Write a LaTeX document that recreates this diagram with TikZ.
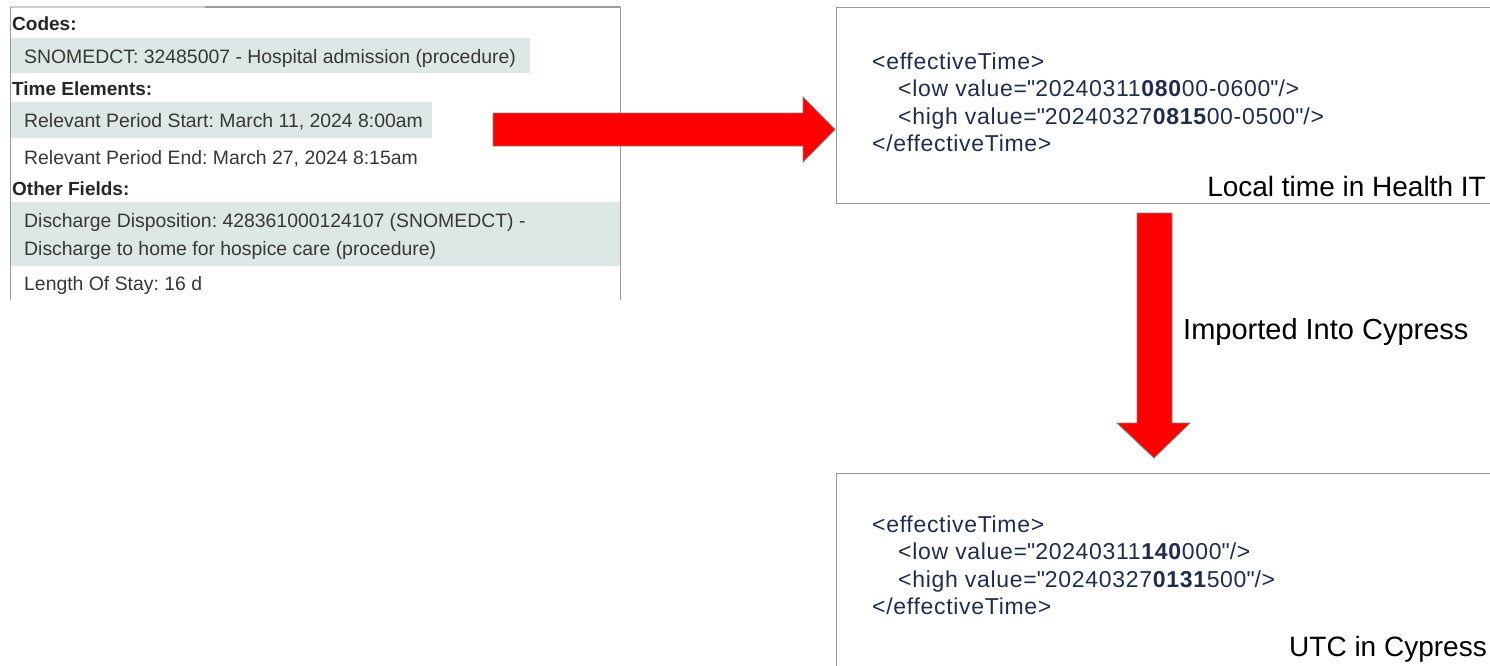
\documentclass[tikz,border=0pt]{standalone}
\usepackage{fontspec}
\setmainfont{Liberation Sans}
\newfontfamily\xmlfont[LetterSpace=3.0]{Liberation Sans}
\definecolor{hl}{RGB}{221,232,230}
\definecolor{frame}{RGB}{155,155,155}
\definecolor{lightframe}{RGB}{205,205,205}
\definecolor{xml}{RGB}{31,45,77}
\definecolor{paneltext}{RGB}{55,55,55}
\definecolor{arrowred}{RGB}{255,0,0}
\newcommand{\qq}{\textquotedbl}
\begin{document}
\frenchspacing
\begin{tikzpicture}[x=1pt,y=-1pt,
  lbl/.style={anchor=base west,inner sep=0pt,font=\fontsize{19}{23}\selectfont\bfseries,text=black!85},
  row/.style={anchor=base west,inner sep=0pt,font=\fontsize{19.4}{23}\selectfont,text=paneltext},
  xmlline/.style={anchor=base west,inner sep=0pt,font=\xmlfont\fontsize{23}{27}\selectfont,text=xml},
  captext/.style={inner sep=0pt,font=\fontsize{28}{32}\selectfont,text=black},
  box/.style={draw=frame,line width=1.2pt,anchor=north west,inner sep=0pt,minimum width=720pt},
  bigarrow/.style={fill=arrowred,draw=gray,line width=0.8pt,line join=miter}]
\useasboundingbox (0,0) rectangle (1490,665);

% left panel highlights
\fill[hl] (11,38) rectangle (530,73);
\fill[hl] (11,102) rectangle (432,138);
\fill[hl] (11,202) rectangle (620,266);
% left panel frame
\draw[lightframe,line width=1.5pt] (10,7) -- (205,7);
\draw[frame,line width=1.5pt] (205,7) -- (620,7);
\draw[frame,line width=1pt] (10,7) -- (10,300);
\draw[frame,line width=1pt] (620,7) -- (620,300);

\node[lbl] (codes) at (12,30) {Codes:};
\node[row] (snomed) at (24,63) {SNOMEDCT: 32485007 - Hospital admission (procedure)};
\node[lbl] (timeel) at (12,95) {Time Elements:};
\node[row] (rstart) at (24,127) {Relevant Period Start: March 11, 2024 8:00am};
\node[row] (rend) at (24,164) {Relevant Period End: March 27, 2024 8:15am};
\node[lbl] (other) at (12,195) {Other Fields:};
\node[row] (disch1) at (24,227) {Discharge Disposition: 428361000124107 (SNOMEDCT) -};
\node[row] (disch2) at (24,255) {Discharge to home for hospice care (procedure)};
\node[row] (los) at (24,290) {Length Of Stay: 16 d};

% right boxes
\node[box,minimum height=196pt] (b1) at (836,7) {};
\node[box,minimum height=260pt] (b2) at (836,473) {};

\node[xmlline] (b1l1) at (872,69) {<effectiveTime>};
\node[xmlline] (b1l2) at (898,96.5) {<low value=\qq20240311\textbf{080}00-0600\qq/>};
\node[xmlline] (b1l3) at (898,124) {<high value=\qq20240327\textbf{0815}00-0500\qq/>};
\node[xmlline] (b1l4) at (872,151.5) {</effectiveTime>};
\node[captext,anchor=base east] (b1cap) at (1486,196) {Local time in Health IT};

\node[xmlline] (b2l1) at (872,532) {<effectiveTime>};
\node[xmlline] (b2l2) at (898,559.5) {<low value=\qq20240311\textbf{140}000\qq/>};
\node[xmlline] (b2l3) at (898,587) {<high value=\qq20240327\textbf{0131}500\qq/>};
\node[xmlline] (b2l4) at (872,614.5) {</effectiveTime>};
\node[captext,anchor=base east] (b2cap) at (1487,656) {UTC in Cypress};

% arrows
\draw[bigarrow] (493,113) -- (803,113) -- (803,97) -- (835,129.5) -- (803,162) -- (803,146) -- (493,146) -- cycle;
\draw[bigarrow] (1137,213) -- (1172,213) -- (1172,423) -- (1190,423) -- (1154,458) -- (1117,423) -- (1137,423) -- cycle;
\node[captext,anchor=base west,font=\fontsize{29}{33}\selectfont] (imp) at (1183,339) {Imported Into Cypress};
\end{tikzpicture}
\end{document}
